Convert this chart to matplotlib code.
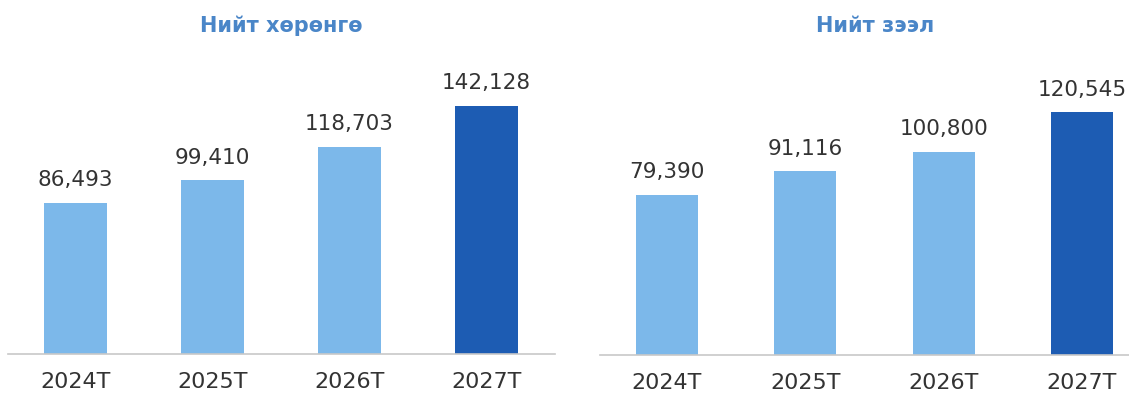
import matplotlib
matplotlib.use("Agg")
import matplotlib.pyplot as plt

categories = ["2024T", "2025T", "2026T", "2027T"]
assets = [86493, 99410, 118703, 142128]
loans = [79390, 91116, 100800, 120545]
titles = ["Нийт хөрөнгө", "Нийт зээл"]

light = "#7cb8ea"
dark = "#1d5cb3"
title_color = "#4a86c8"
text_color = "#333333"

plt.rcParams['font.family'] = ['DejaVu Sans']

fig = plt.figure(figsize=(11.29, 3.95), dpi=100)
W, H = 1129, 395

def make_ax(x0, x1, base_y, top_y):
    return fig.add_axes([x0 / W, (H - base_y) / H, (x1 - x0) / W, (base_y - top_y) / H])

panels = [
    dict(ax=make_ax(8, 555, 354, 60), vals=assets, title=titles[0],
         xlim=(-0.49, 3.5), width=0.46, scale_px=249, title_x=281),
    dict(ax=make_ax(600, 1129, 355, 60), vals=loans, title=titles[1],
         xlim=(-0.484, 3.34), width=0.45, scale_px=243, title_x=875),
]

for p in panels:
    ax = p['ax']
    vals = p['vals']
    x = list(range(len(categories)))
    colors = [light] * (len(vals) - 1) + [dark]
    ax.bar(x, vals, width=p['width'], color=colors, zorder=2)
    ymax = max(vals) * 295 / p['scale_px']
    ax.set_ylim(0, ymax)
    ax.set_xlim(*p['xlim'])
    for xi, v in zip(x, vals):
        ax.annotate(f"{v:,}", (xi, v), xytext=(0, 9), textcoords="offset points",
                    ha="center", va="bottom", fontsize=15.5, color=text_color)
    ax.set_xticks(x)
    ax.set_xticklabels(categories, fontsize=16, color=text_color)
    ax.tick_params(axis='x', length=0, pad=13)
    ax.set_yticks([])
    for s in ['top', 'right', 'left']:
        ax.spines[s].set_visible(False)
    ax.spines['bottom'].set_color("#c8c8c8")
    ax.spines['bottom'].set_linewidth(1.2)
    fig.text(p['title_x'] / W, 1 - 26 / H, p['title'], ha="center", va="center",
             fontsize=15, fontweight="bold", color=title_color)

fig.savefig("out.png", dpi=100)
